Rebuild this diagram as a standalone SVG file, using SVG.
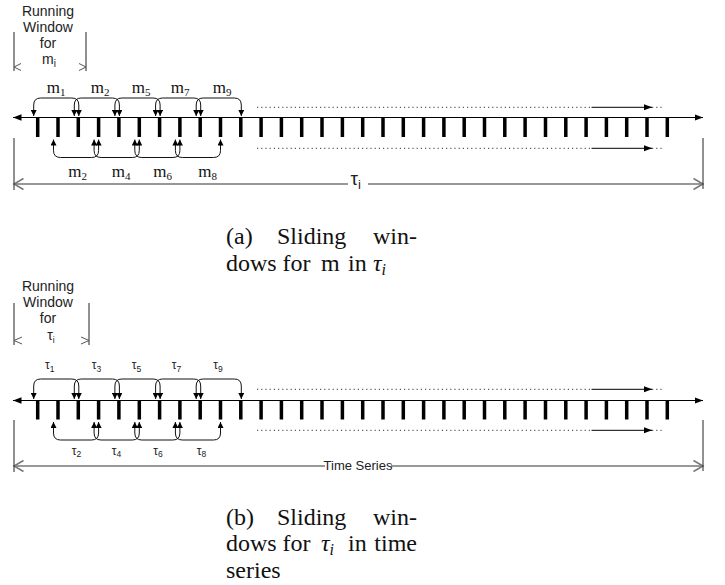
<svg xmlns="http://www.w3.org/2000/svg" width="725" height="585" viewBox="0 0 725 585">
<defs>
<style>
.ax{stroke:#000;stroke-width:1.2;fill:none;marker-start:url(#axh);marker-end:url(#axh)}
.tk{stroke:#000;stroke-width:3.5;fill:none}
.arc{stroke:#111;stroke-width:1;fill:none;marker-start:url(#ah);marker-end:url(#ah)}
.dot{stroke:#333;stroke-width:1;stroke-dasharray:1.2 3;fill:none}
.sol{stroke:#000;stroke-width:1;fill:none;marker-end:url(#axh)}
.span{stroke:#777;stroke-width:1.5;fill:none}
.vl{stroke:#222;stroke-width:1;fill:none}
.chev{stroke:#555;stroke-width:1;fill:none}
.rw{font-family:"Liberation Sans",Arial,sans-serif;font-size:14px;fill:#222;text-anchor:middle}
.ml{font-family:"Liberation Serif","Times New Roman",serif;font-size:17px;fill:#111}
.tl{font-family:"Liberation Sans",Arial,sans-serif;font-size:12px;fill:#222}
.cap{font-family:"Liberation Serif","Times New Roman",serif;font-size:24px;fill:#111}
.sub{font-size:11px}
.tsub{font-size:8.5px}
</style>
<marker id="ah" viewBox="0 0 10 10" refX="10" refY="5" markerWidth="6" markerHeight="6" markerUnits="userSpaceOnUse" orient="auto-start-reverse"><path d="M0,0L10,5L0,10z" fill="#000"/></marker>
<marker id="axh" viewBox="0 0 10 10" refX="10" refY="5" markerWidth="8.5" markerHeight="6.5" markerUnits="userSpaceOnUse" orient="auto-start-reverse" preserveAspectRatio="none"><path d="M0,0L10,5L0,10z" fill="#000"/></marker>
</defs>
<rect width="725" height="585" fill="#fff"/>

<!-- ===== (a) ===== -->
<g id="window-a">
<text class="rw" x="48" y="16">Running</text>
<text class="rw" x="48" y="31.5">Window</text>
<text class="rw" x="48" y="48">for</text>
<text class="rw" x="49" y="63.5">m<tspan font-size="10" dy="3">i</tspan></text>
<path class="vl" d="M14,32V71M86,32V71"/>
<polyline class="chev" points="21,63.5 14,67 21,70.5"/>
<polyline class="chev" points="79,63.5 86,67 79,70.5"/>
</g>
<g id="timeline-a">
<path class="ax" d="M13,117.5H703"/>
<path class="tk" d="M37.7,118V137M58,118V137M78.3,118V137M98.6,118V137M118.9,118V137M139.3,118V137M159.6,118V137M179.9,118V137M200.2,118V137M220.5,118V137M240.8,118V137M261.1,118V137M281.4,118V137M301.7,118V137M322,118V137M342.4,118V137M362.7,118V137M383,118V137M403.3,118V137M423.6,118V137M443.9,118V137M464.2,118V137M484.5,118V137M504.8,118V137M525.1,118V137M545.5,118V137M565.8,118V137M586.1,118V137M606.4,118V137M626.7,118V137M647,118V137M667.3,118V137"/>
</g>
<g id="connectors-a">
<path class="arc" d="M33.7,116V105Q33.7,98 40.7,98H71.8Q78.8,98 78.8,105V116"/>
<path class="arc" d="M74.3,116V105Q74.3,98 81.3,98H112.4Q119.4,98 119.4,105V116"/>
<path class="arc" d="M114.9,116V105Q114.9,98 121.9,98H153.1Q160.1,98 160.1,105V116"/>
<path class="arc" d="M155.6,116V105Q155.6,98 162.6,98H193.7Q200.7,98 200.7,105V116"/>
<path class="arc" d="M196.2,116V105Q196.2,98 203.2,98H234.3Q241.3,98 241.3,105V116"/>
<path class="arc" d="M53.5,139.5V150.5Q53.5,157.5 60.5,157.5H91.6Q98.6,157.5 98.6,150.5V139.5"/>
<path class="arc" d="M94.1,139.5V150.5Q94.1,157.5 101.1,157.5H132.3Q139.3,157.5 139.3,150.5V139.5"/>
<path class="arc" d="M134.8,139.5V150.5Q134.8,157.5 141.8,157.5H172.9Q179.9,157.5 179.9,150.5V139.5"/>
<path class="arc" d="M175.4,139.5V150.5Q175.4,157.5 182.4,157.5H213.5Q220.5,157.5 220.5,150.5V139.5"/>
<path class="dot" d="M257,107.3H591.5M652,107.3H664M257,148.3H591.5M652,148.3H664"/>
<path class="sol" d="M591.5,107.3H652"/>
<path class="sol" d="M591.5,148.3H652"/>
</g>
<g id="labels-a" class="ml">
<text x="46.7" y="92.5">m<tspan class="sub" dy="3">1</tspan></text>
<text x="90.7" y="92.5">m<tspan class="sub" dy="3">2</tspan></text>
<text x="131.7" y="92.5">m<tspan class="sub" dy="3">5</tspan></text>
<text x="170.7" y="92.5">m<tspan class="sub" dy="3">7</tspan></text>
<text x="212.7" y="92.5">m<tspan class="sub" dy="3">9</tspan></text>
<text x="68.3" y="176.5">m<tspan class="sub" dy="3">2</tspan></text>
<text x="111.7" y="176.5">m<tspan class="sub" dy="3">4</tspan></text>
<text x="153.3" y="176.5">m<tspan class="sub" dy="3">6</tspan></text>
<text x="198.3" y="176.5">m<tspan class="sub" dy="3">8</tspan></text>
</g>
<g id="span-a">
<path class="span" d="M14,184H348M368,184H703"/>
<polyline class="span" points="23.5,178.5 14,184 23.5,189.5"/>
<polyline class="span" points="693.5,178.5 703,184 693.5,189.5"/>
<path class="vl" d="M14,138V190M703,138V189"/>
<text x="350.5" y="185" font-family="'Liberation Sans',Arial,sans-serif" font-size="19" fill="#222">τ<tspan font-size="13" dy="4">i</tspan></text>
</g>
<g id="caption-a" class="cap">
<text x="226" y="243.5">(a)</text>
<text x="277" y="243.5">Sliding</text>
<text x="417" y="243.5" text-anchor="end">win-</text>
<text x="226" y="270.5">dows</text>
<text x="282.5" y="270.5">for</text>
<text x="321" y="270.5">m</text>
<text x="348" y="270.5">in</text>
<text x="373" y="270.5" font-style="italic">τ<tspan font-size="16" dy="4">i</tspan></text>
</g>

<!-- ===== (b) ===== -->
<g id="window-b">
<text class="rw" x="48" y="290.5">Running</text>
<text class="rw" x="48" y="307">Window</text>
<text class="rw" x="48" y="323">for</text>
<text class="rw" x="51" y="340" font-size="12">τ<tspan font-size="8.5" dy="2.5">i</tspan></text>
<path class="vl" d="M14,303V345M89,303V345"/>
<polyline class="chev" points="22,337 14,340.5 22,344"/>
<polyline class="chev" points="81,337 89,340.5 81,344"/>
</g>
<g id="timeline-b">
<path class="ax" d="M13,400.5H703"/>
<path class="tk" d="M37.7,401V419.5M58,401V419.5M78.3,401V419.5M98.6,401V419.5M118.9,401V419.5M139.3,401V419.5M159.6,401V419.5M179.9,401V419.5M200.2,401V419.5M220.5,401V419.5M240.8,401V419.5M261.1,401V419.5M281.4,401V419.5M301.7,401V419.5M322,401V419.5M342.4,401V419.5M362.7,401V419.5M383,401V419.5M403.3,401V419.5M423.6,401V419.5M443.9,401V419.5M464.2,401V419.5M484.5,401V419.5M504.8,401V419.5M525.1,401V419.5M545.5,401V419.5M565.8,401V419.5M586.1,401V419.5M606.4,401V419.5M626.7,401V419.5M647,401V419.5M667.3,401V419.5"/>
</g>
<g id="connectors-b">
<path class="arc" d="M33.7,399V386Q33.7,379 40.7,379H71.8Q78.8,379 78.8,386V399"/>
<path class="arc" d="M74.3,399V386Q74.3,379 81.3,379H112.4Q119.4,379 119.4,386V399"/>
<path class="arc" d="M114.9,399V386Q114.9,379 121.9,379H153.1Q160.1,379 160.1,386V399"/>
<path class="arc" d="M155.6,399V386Q155.6,379 162.6,379H193.7Q200.7,379 200.7,386V399"/>
<path class="arc" d="M196.2,399V386Q196.2,379 203.2,379H234.3Q241.3,379 241.3,386V399"/>
<path class="arc" d="M53.5,422V433Q53.5,440 60.5,440H91.6Q98.6,440 98.6,433V422"/>
<path class="arc" d="M94.1,422V433Q94.1,440 101.1,440H132.3Q139.3,440 139.3,433V422"/>
<path class="arc" d="M134.8,422V433Q134.8,440 141.8,440H172.9Q179.9,440 179.9,433V422"/>
<path class="arc" d="M175.4,422V433Q175.4,440 182.4,440H213.5Q220.5,440 220.5,433V422"/>
<path class="dot" d="M257,389.3H591.5M652,389.3H664M257,430.3H591.5M652,430.3H664"/>
<path class="sol" d="M591.5,389.3H652"/>
<path class="sol" d="M591.5,430.3H652"/>
</g>
<g id="labels-b" class="tl">
<text x="45" y="369">τ<tspan class="tsub" dy="2.5">1</tspan></text>
<text x="91.7" y="369">τ<tspan class="tsub" dy="2.5">3</tspan></text>
<text x="131.7" y="369">τ<tspan class="tsub" dy="2.5">5</tspan></text>
<text x="171.7" y="369">τ<tspan class="tsub" dy="2.5">7</tspan></text>
<text x="213.3" y="369">τ<tspan class="tsub" dy="2.5">9</tspan></text>
<text x="71.7" y="454.5">τ<tspan class="tsub" dy="2.5">2</tspan></text>
<text x="111.7" y="454.5">τ<tspan class="tsub" dy="2.5">4</tspan></text>
<text x="153.3" y="454.5">τ<tspan class="tsub" dy="2.5">6</tspan></text>
<text x="196.7" y="454.5">τ<tspan class="tsub" dy="2.5">8</tspan></text>
</g>
<g id="span-b">
<path class="span" d="M14,466H325M391,466H703"/>
<polyline class="span" points="23.5,460.5 14,466 23.5,471.5"/>
<polyline class="span" points="693.5,460.5 703,466 693.5,471.5"/>
<path class="vl" d="M14,420V472M703,420V471"/>
<text x="358" y="469.5" text-anchor="middle" font-family="'Liberation Sans',Arial,sans-serif" font-size="13" fill="#222">Time Series</text>
</g>
<g id="caption-b" class="cap">
<text x="226" y="524.5">(b)</text>
<text x="277" y="524.5">Sliding</text>
<text x="417" y="524.5" text-anchor="end">win-</text>
<text x="226" y="551">dows</text>
<text x="282.5" y="551">for</text>
<text x="321" y="551" font-style="italic">τ<tspan font-size="16" dy="4">i</tspan></text>
<text x="348" y="551">in</text>
<text x="417" y="551" text-anchor="end">time</text>
<text x="226" y="578">series</text>
</g>
</svg>
